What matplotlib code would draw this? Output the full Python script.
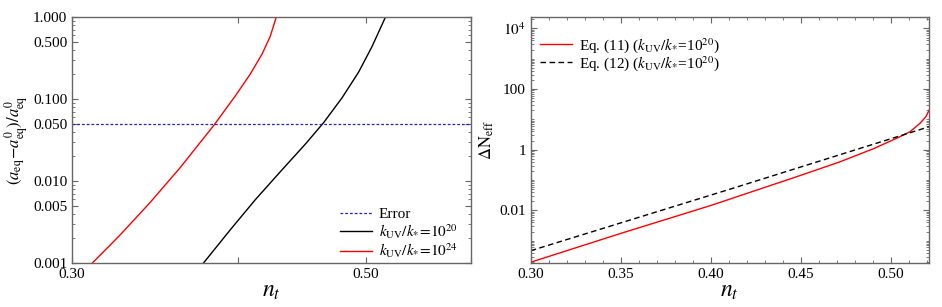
import numpy as np
import matplotlib
matplotlib.use('Agg')
import matplotlib.pyplot as plt
from matplotlib.ticker import FixedLocator, NullFormatter, FixedFormatter

plt.rcParams['font.family'] = ['Liberation Serif', 'DejaVu Serif']
plt.rcParams['mathtext.fontset'] = 'stix'

# left panel: relative shift of a_eq vs n_t (log10 of y)
nt_24 = [0.3108, 0.3263, 0.3437, 0.3621, 0.3840, 0.3984, 0.4089, 0.4175,
         0.4234, 0.4278]
logda_24 = [-3.0, -2.655, -2.260, -1.835, -1.317, -0.963, -0.696, -0.448,
            -0.233, 0.0]
nt_20 = [0.3770, 0.3950, 0.4125, 0.4308, 0.4499, 0.4645, 0.4796, 0.4936,
         0.5052, 0.5172]
logda_20 = [-3.0, -2.594, -2.228, -1.887, -1.551, -1.288, -0.985, -0.672,
            -0.361, 0.0]
err_level = 0.05

# right panel: Delta N_eff vs n_t (log10 of y)
nt_eq11 = [0.300, 0.350, 0.400, 0.4478, 0.4718, 0.4903, 0.5033, 0.5107,
           0.5163, 0.5196, 0.5214]
logN_eq11 = [-3.71, -2.76, -1.84, -0.89, -0.40, 0.03, 0.376, 0.59,
             0.87, 1.09, 1.31]
nt_eq12 = [0.300, 0.4135, 0.5214]
logN_eq12 = [-3.33, -1.25, 0.758]

spine_col = '#666666'

fig = plt.figure(figsize=(9.42, 3.07), dpi=100)
ax1 = fig.add_axes([72/942, 44/307, 399/942, 246/307])
ax2 = fig.add_axes([530.7/942, 44/307, 398.3/942, 246/307])

for ax in (ax1, ax2):
    for s in ax.spines.values():
        s.set_color(spine_col)
        s.set_linewidth(1.0)
    ax.tick_params(which='both', direction='in', top=True, right=True,
                   colors=spine_col, labelcolor='black', labelsize=11)
    ax.tick_params(which='major', length=4, width=0.8)
    ax.tick_params(which='minor', length=2, width=0.6)

# ---- left
ax1.plot(nt_24, 10.0**np.array(logda_24), color='red', lw=1.0,
         label=r'$k_{\rm UV}/k_{*}\!=\!10^{24}$')
ax1.plot(nt_20, 10.0**np.array(logda_20), color='black', lw=1.0,
         label=r'$k_{\rm UV}/k_{*}\!=\!10^{20}$')
ax1.axhline(err_level, color='#2222cc', lw=0.9, ls=(0, (2.2, 1.6)), label='Error')
ax1.set_xscale('log')
ax1.set_yscale('log')
ax1.set_xlim(0.3, 0.6)
ax1.set_ylim(0.001, 1.0)
ax1.xaxis.set_major_locator(FixedLocator([0.3, 0.4, 0.5, 0.6]))
ax1.xaxis.set_major_formatter(FixedFormatter(['0.30', '', '0.50', '']))
ax1.xaxis.set_minor_locator(FixedLocator([]))
ax1.xaxis.set_minor_formatter(NullFormatter())
yt = [0.001, 0.005, 0.01, 0.05, 0.1, 0.5, 1.0]
ax1.yaxis.set_major_locator(FixedLocator(yt))
ax1.yaxis.set_major_formatter(FixedFormatter(['%.3f' % v for v in yt]))
ymin = [m * 10.0**e for e in (-3, -2, -1) for m in (2, 3, 4, 6, 7, 8, 9)]
ax1.yaxis.set_minor_locator(FixedLocator(ymin))
ax1.yaxis.set_minor_formatter(NullFormatter())
ax1.set_xlabel(r'$n_t$', fontsize=17, labelpad=0)
ax1.set_ylabel(r'$(a_{\rm eq}\!-\!a^0_{\rm eq})/a^0_{\rm eq}$', fontsize=12, labelpad=2)
h, l = ax1.get_legend_handles_labels()
ax1.legend([h[2], h[1], h[0]], [l[2], l[1], l[0]], loc='lower right',
           frameon=False, fontsize=11, handlelength=2.1, handletextpad=0.45,
           labelspacing=0.05, borderaxespad=0.2, bbox_to_anchor=(0.99, -0.025))

# ---- right
ax2.plot(nt_eq11, 10.0**np.array(logN_eq11), color='red', lw=1.0,
         label=r'Eq. (11) ($k_{\rm UV}/k_{*}$=10$^{20}$)')
ax2.plot(nt_eq12, 10.0**np.array(logN_eq12), color='black', lw=1.0, ls=(0, (4, 2.5)),
         label=r'Eq. (12) ($k_{\rm UV}/k_{*}$=10$^{20}$)')
ax2.set_yscale('log')
ax2.set_xlim(0.30, 0.5213)
ax2.set_ylim(10**-3.735, 10**4.375)
ax2.set_xticks([0.30, 0.35, 0.40, 0.45, 0.50])
ax2.set_xticklabels(['0.30', '0.35', '0.40', '0.45', '0.50'])
ax2.xaxis.set_minor_locator(FixedLocator(np.arange(0.30, 0.5201, 0.01)))
ax2.yaxis.set_major_locator(FixedLocator([1e-2, 1, 1e2, 1e4]))
ax2.yaxis.set_major_formatter(FixedFormatter(['0.01', '1', '100', r'$10^4$']))
ymin2 = [m * 10.0**e for e in range(-4, 5) for m in range(1, 10)]
ymin2 = [v for v in ymin2 if v not in (1e-2, 1, 1e2, 1e4)]
ax2.yaxis.set_minor_locator(FixedLocator(ymin2))
ax2.yaxis.set_minor_formatter(NullFormatter())
ax2.set_xlabel(r'$n_t$', fontsize=17, labelpad=0)
ax2.set_ylabel(r'$\Delta\mathrm{N}_{\rm eff}$', fontsize=12, labelpad=2)
ax2.legend(loc='upper left', frameon=False, fontsize=11, handlelength=2.1,
           handletextpad=0.45, labelspacing=-0.08, borderaxespad=0.2,
           bbox_to_anchor=(0.0, 0.96))

fig.savefig('out.png', dpi=100)
